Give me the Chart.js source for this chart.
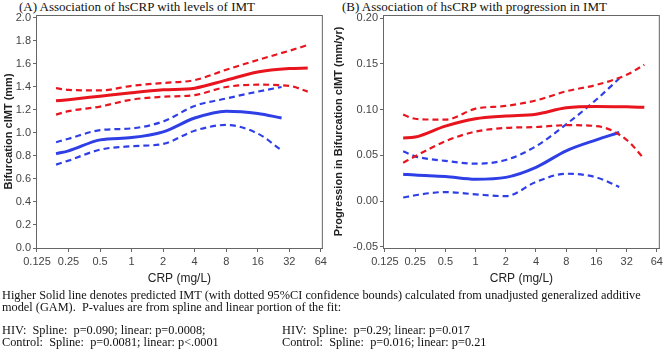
<!DOCTYPE html>
<html lang="en">

<head>
    <meta charset="UTF-8">
    <title>hsCRP and IMT</title>
    <script src="https://cdn.jsdelivr.net/npm/chart.js"></script>
    <style>
        body { margin: 0; background: #fff; width: 666px; height: 357px; overflow: hidden; position: relative; }
        .serif { font-family: "Liberation Serif", "Times New Roman", serif; color: #111; position: absolute; white-space: nowrap; }
        .title { font-size: 13px; top: -1px; }
        .cap { font-size: 12.3px; }
        canvas { position: absolute; top: 0; }
    </style>
</head>

<body>
    <div class="serif title" style="left:19px">(A) Association of hsCRP with levels of IMT</div>
    <div class="serif title" style="left:342px">(B) Association of hsCRP with progression in IMT</div>

    <div style="position:absolute;left:0;top:0;width:330px;height:290px"><canvas id="chartA"></canvas></div>
    <div style="position:absolute;left:330px;top:0;width:336px;height:290px"><canvas id="chartB"></canvas></div>

    <div class="serif cap" style="left:2px;top:288px">Higher Solid line denotes predicted IMT (with dotted 95%CI confidence bounds) calculated from unadjusted generalized additive</div>
    <div class="serif cap" style="left:2px;top:300px">model (GAM).&nbsp; P-values are from spline and linear portion of the fit:</div>
    <div class="serif cap" style="left:2px;top:323px">HIV:&nbsp; Spline:&nbsp; p=0.090; linear: p=0.0008;</div>
    <div class="serif cap" style="left:2px;top:335px">Control:&nbsp; Spline:&nbsp; p=0.0081; linear: p&lt;.0001</div>
    <div class="serif cap" style="left:282px;top:323px">HIV:&nbsp; Spline:&nbsp; p=0.29; linear: p=0.017</div>
    <div class="serif cap" style="left:282px;top:335px">Control:&nbsp; Spline:&nbsp; p=0.016; linear: p=0.21</div>

    <script>
        // CRP values (mg/L) where the curves were read
        const crpHiv = [0.19, 0.25, 0.5, 1, 2, 4, 8, 16, 32, 48];
        const crpCtrl = [0.19, 0.25, 0.5, 1, 2, 4, 8, 16, 27];
        const crpTicks = [0.125, 0.25, 0.5, 1, 2, 4, 8, 16, 32, 64];

        // (A) bifurcation cIMT (mm)
        const imtHivFit = [1.28, 1.29, 1.32, 1.35, 1.375, 1.39, 1.46, 1.53, 1.56, 1.565];
        const imtHivUpper = [1.39, 1.375, 1.37, 1.41, 1.435, 1.46, 1.55, 1.635, 1.715, 1.765];
        const imtHivLower = [1.16, 1.19, 1.23, 1.29, 1.315, 1.33, 1.40, 1.42, 1.41, 1.36];
        const imtCtrlFit = [0.82, 0.845, 0.94, 0.96, 1.01, 1.13, 1.19, 1.17, 1.13];
        const imtCtrlUpper = [0.92, 0.95, 1.025, 1.04, 1.1, 1.235, 1.30, 1.36, 1.40];
        const imtCtrlLower = [0.725, 0.76, 0.855, 0.885, 0.905, 1.02, 1.07, 0.995, 0.85];
        const imtTicks = [0, 0.2, 0.4, 0.6, 0.8, 1.0, 1.2, 1.4, 1.6, 1.8, 2.0];

        // (B) progression in bifurcation cIMT (mm/yr)
        const progHivFit = [0.069, 0.070, 0.082, 0.090, 0.093, 0.095, 0.102, 0.1035, 0.103, 0.1025];
        const progHivUpper = [0.0945, 0.090, 0.089, 0.101, 0.104, 0.110, 0.120, 0.127, 0.138, 0.149];
        const progHivLower = [0.042, 0.049, 0.0655, 0.076, 0.080, 0.081, 0.083, 0.082, 0.067, 0.046];
        const progCtrlFit = [0.0295, 0.0285, 0.027, 0.024, 0.026, 0.037, 0.055, 0.067, 0.075];
        const progCtrlUpper = [0.0545, 0.049, 0.044, 0.041, 0.045, 0.060, 0.084, 0.111, 0.134];
        const progCtrlLower = [0.004, 0.0065, 0.010, 0.0075, 0.0055, 0.021, 0.030, 0.026, 0.0155];
        const progTicks = [-0.05, 0, 0.05, 0.10, 0.15, 0.20];

        const RED = '#e8141e';
        const BLUE = '#2f3fe6';
        const AXIS = '#666';

        function pts(xs, ys) {
            return xs.map((x, i) => ({ x: x, y: ys[i] }));
        }

        function line(xs, ys, color, dashed) {
            return {
                data: pts(xs, ys),
                borderColor: color,
                borderWidth: dashed ? 2.2 : 3,
                borderDash: dashed ? [6, 4] : [],
                pointRadius: 0,
                fill: false,
                cubicInterpolationMode: 'monotone'
            };
        }

        // box round the plot area
        const frame = {
            id: 'frame',
            afterDraw(chart) {
                const a = chart.chartArea, ctx = chart.ctx;
                ctx.save();
                ctx.strokeStyle = AXIS;
                ctx.lineWidth = 1;
                ctx.strokeRect(a.left + 0.5, a.top + 0.5, a.right - a.left - 1, a.bottom - a.top);
                ctx.restore();
            }
        };

        function makeChart(id, cfg) {
            return new Chart(document.getElementById(id), {
                type: 'line',
                data: { datasets: cfg.datasets },
                plugins: [frame],
                options: {
                    responsive: true,
                    maintainAspectRatio: false,
                    animation: false,
                    layout: { padding: { top: 15, right: cfg.padRight, left: 0, bottom: 0 } },
                    plugins: { legend: { display: false }, tooltip: { enabled: false } },
                    scales: {
                        x: {
                            type: 'logarithmic',
                            min: cfg.xMin,
                            max: cfg.xMax,
                            afterBuildTicks: s => { s.ticks = crpTicks.map(v => ({ value: v })); },
                            afterFit: s => { s.height = 42; },
                            ticks: {
                                autoSkip: false, maxRotation: 0, padding: 3,
                                color: '#444', font: { family: 'Liberation Sans, Arial', size: 11 },
                                callback: v => String(v)
                            },
                            grid: { drawOnChartArea: false, tickLength: 4, color: AXIS },
                            border: { color: AXIS },
                            title: {
                                display: true, text: 'CRP (mg/L)', color: '#222',
                                font: { family: 'Liberation Sans, Arial', size: 12 }, padding: { top: 2, bottom: 4 }
                            }
                        },
                        y: {
                            min: cfg.yMin,
                            max: cfg.yMax,
                            afterBuildTicks: s => { s.ticks = cfg.yTicks.map(v => ({ value: v })); },
                            afterFit: s => { s.width = cfg.yWidth; },
                            ticks: {
                                padding: 2, color: '#444', font: { family: 'Liberation Sans, Arial', size: 11 },
                                callback: v => v.toFixed(cfg.dec)
                            },
                            grid: { drawOnChartArea: false, tickLength: 3, color: AXIS },
                            border: { color: AXIS },
                            title: {
                                display: true, text: cfg.yTitle, color: '#222',
                                font: { family: 'Liberation Sans, Arial', size: 11, weight: '600' }, padding: 2
                            }
                        }
                    }
                }
            });
        }

        makeChart('chartA', {
            datasets: [
                line(crpHiv, imtHivUpper, RED, true),
                line(crpHiv, imtHivFit, RED, false),
                line(crpHiv, imtHivLower, RED, true),
                line(crpCtrl, imtCtrlUpper, BLUE, true),
                line(crpCtrl, imtCtrlFit, BLUE, false),
                line(crpCtrl, imtCtrlLower, BLUE, true)
            ],
            xMin: 0.1223, xMax: 66.9,
            yMin: 0, yMax: 2.026, yTicks: imtTicks, dec: 1,
            yWidth: 36, padRight: 7,
            yTitle: 'Bifurcation cIMT (mm)'
        });

        makeChart('chartB', {
            datasets: [
                line(crpHiv, progHivUpper, RED, true),
                line(crpHiv, progHivFit, RED, false),
                line(crpHiv, progHivLower, RED, true),
                line(crpCtrl, progCtrlUpper, BLUE, true),
                line(crpCtrl, progCtrlFit, BLUE, false),
                line(crpCtrl, progCtrlLower, BLUE, true)
            ],
            xMin: 0.1196, xMax: 68.5,
            yMin: -0.0511, yMax: 0.2033, yTicks: progTicks, dec: 2,
            yWidth: 53, padRight: 3,
            yTitle: 'Progression in Bifurcation cIMT (mm/yr)'
        });
    </script>
</body>

</html>
